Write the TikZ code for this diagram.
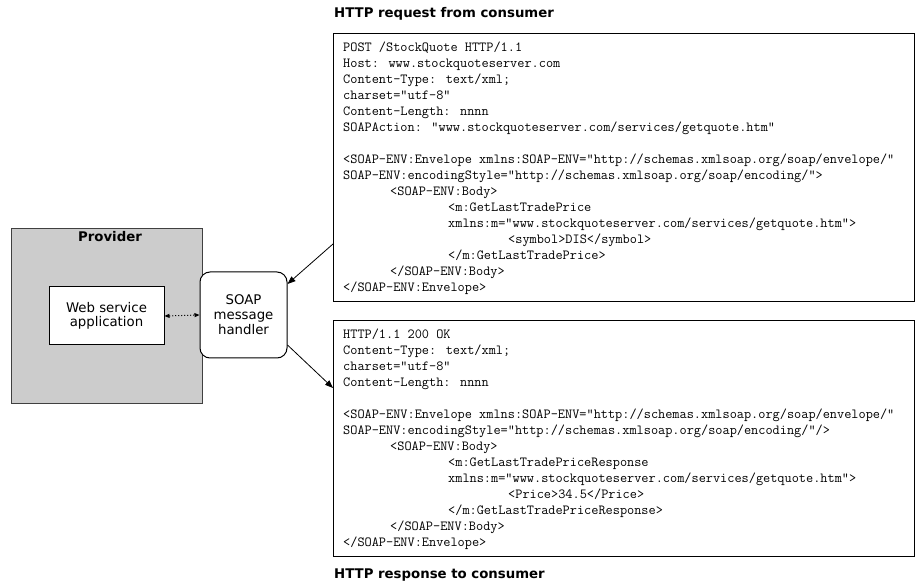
\documentclass[tikz,border=0pt]{standalone}
\usepackage{fontspec}
\setsansfont{DejaVu Sans}
\usetikzlibrary{arrows.meta, positioning}

\begin{document}
\begin{tikzpicture}[x=1pt, y=-1pt, >=Triangle,
		heading/.style={font=\fontsize{13.3}{16}\selectfont\sffamily\bfseries, inner sep=0pt},
		msgbox/.style={rectangle, draw=black, line width=1pt, anchor=north west, minimum width=581pt, inner sep=0pt},
		codetext/.style={font=\fontsize{13.9}{16}\selectfont\ttfamily, align=left, anchor=north west, inner sep=0pt},
		unit/.style={rectangle, draw=black, fill=white, line width=1pt, font=\fontsize{13.3}{14}\selectfont\sffamily, align=center},
		msgarrow/.style={-{Triangle[length=8pt, width=6pt]}, line width=0.8pt},
		callarrow/.style={{Triangle[length=5pt, width=4pt]}-{Triangle[length=5pt, width=4pt]}, dotted, line width=1pt}]
		
		\useasboundingbox (0,0) rectangle (916,585);
		
		% Titles
		\node[heading, anchor=west] (reqtitle) at (334,14) {HTTP request from consumer};
		\node[heading, anchor=west] (resptitle) at (334,575) {HTTP response to consumer};
		
		% Provider
		\node[rectangle, draw=black!75, fill=black!20, line width=1pt, anchor=north west, minimum width=191pt, minimum height=175pt] (prov) at (11,228) {};
		\node[heading] (provlbl) at (110,237) {Provider};
		\node[unit, minimum width=115pt, minimum height=58pt] (app) at (106.5,316) {Web service\\application};
		\node[unit, rounded corners=10pt, minimum width=87pt, minimum height=86pt, font=\fontsize{13.3}{15}\selectfont\sffamily] (soap) at (243.5,315) {SOAP\\message\\handler};
		
		% Messages
		\node[msgbox, minimum height=268pt] (req) at (333,33) {};
		\node[msgbox, minimum height=236pt] (resp) at (333,320) {};
		
		\node[codetext] (reqcode) at (343,42) {POST /StockQuote HTTP/1.1\\
Host: www.stockquoteserver.com\\
Content-Type: text/xml;\\
charset="utf-8"\\
Content-Length: nnnn\\
SOAPAction: "www.stockquoteserver.com/services/getquote.htm"\\[16pt]
<SOAP-ENV:Envelope xmlns:SOAP-ENV="http://schemas.xmlsoap.org/soap/envelope/"\\
SOAP-ENV:encodingStyle="http://schemas.xmlsoap.org/soap/encoding/">\\
\hspace*{47pt}<SOAP-ENV:Body>\\
\hspace*{105pt}<m:GetLastTradePrice\\
\hspace*{105pt}xmlns:m="www.stockquoteserver.com/services/getquote.htm">\\
\hspace*{165pt}<symbol>DIS</symbol>\\
\hspace*{105pt}</m:GetLastTradePrice>\\
\hspace*{47pt}</SOAP-ENV:Body>\\
</SOAP-ENV:Envelope>};
		
		\node[codetext] (respcode) at (343,329) {HTTP/1.1 200 OK\\
Content-Type: text/xml;\\
charset="utf-8"\\
Content-Length: nnnn\\[16pt]
<SOAP-ENV:Envelope xmlns:SOAP-ENV="http://schemas.xmlsoap.org/soap/envelope/"\\
SOAP-ENV:encodingStyle="http://schemas.xmlsoap.org/soap/encoding/"/>\\
\hspace*{47pt}<SOAP-ENV:Body>\\
\hspace*{105pt}<m:GetLastTradePriceResponse\\
\hspace*{105pt}xmlns:m="www.stockquoteserver.com/services/getquote.htm">\\
\hspace*{165pt}<Price>34.5</Price>\\
\hspace*{105pt}</m:GetLastTradePriceResponse>\\
\hspace*{47pt}</SOAP-ENV:Body>\\
</SOAP-ENV:Envelope>};
		
		% Arrows
		\draw[callarrow] (app.east) -- (soap.west);
		\draw[msgarrow] ([yshift=58pt]req.south west) -- ([yshift=31pt]soap.east);
		\draw[msgarrow] ([yshift=-30pt]soap.east) -- ([yshift=-68pt]resp.north west);
		
	\end{tikzpicture}
\end{document}
